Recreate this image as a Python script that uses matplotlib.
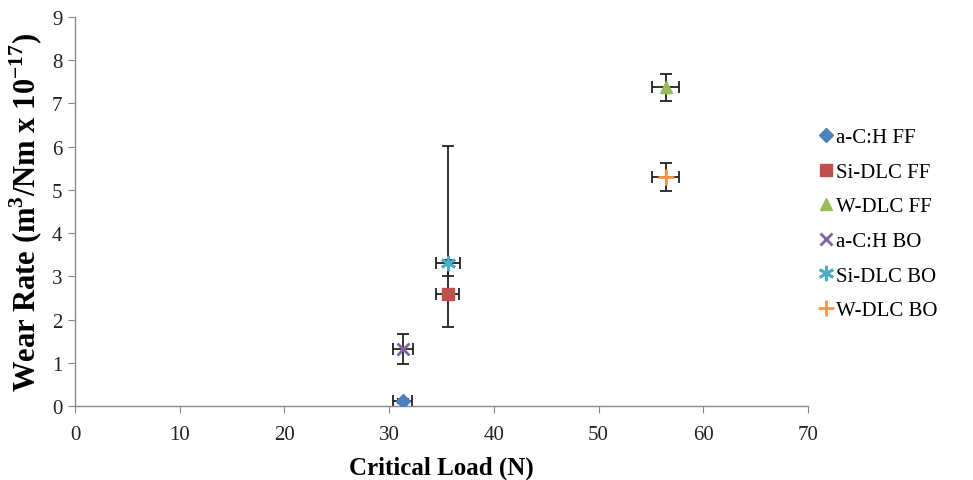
import matplotlib
matplotlib.use("Agg")
import matplotlib.pyplot as plt

plt.rcParams['font.family'] = ['Liberation Serif', 'DejaVu Serif']
plt.rcParams['mathtext.fontset'] = 'custom'
plt.rcParams['mathtext.rm'] = 'Liberation Serif'
plt.rcParams['mathtext.bf'] = 'Liberation Serif:bold'

names = ['a-C:H FF', 'Si-DLC FF', 'W-DLC FF', 'a-C:H BO', 'Si-DLC BO', 'W-DLC BO']
critical_load = [31.3, 35.6, 56.4, 31.3, 35.6, 56.4]
wear_rate = [0.12, 2.6, 7.37, 1.32, 3.3, 5.3]
x_err = [0.9, 1.1, 1.3, 0.95, 1.15, 1.3]
y_err_low = [0.04, 0.78, 0.32, 0.35, 0.3, 0.32]
y_err_high = [0.04, 0.78, 0.32, 0.35, 2.72, 0.32]

colors = ['#4F81BD', '#C0504D', '#9BBB59', '#8064A2', '#4BACC6', '#F79646']
markers = ['D', 's', '^', 'x', (6, 2, 0), '+']
sizes = [7, 9, 9, 9, 11, 12]

fig = plt.figure(figsize=(9.73, 4.81), dpi=100)
ax = fig.add_axes([75/973, 1 - 407/481, (808-75)/973, (407-18)/481])

for i in range(len(names)):
    ax.errorbar(critical_load[i], wear_rate[i], xerr=x_err[i],
                yerr=[[y_err_low[i]], [y_err_high[i]]],
                fmt='none', ecolor='#222222', elinewidth=1.3, capsize=4, capthick=1.3, zorder=2)
for i in range(len(names)):
    mk = markers[i]
    lined = mk in ('x', '+') or isinstance(mk, tuple)
    ax.plot(critical_load[i], wear_rate[i], linestyle='none', marker=mk,
            markersize=sizes[i], color=colors[i], markeredgecolor=colors[i],
            markeredgewidth=2 if lined else 1, label=names[i], zorder=3)

ax.set_xlim(0, 70)
ax.set_ylim(0, 9)
ax.set_xticks(range(0, 71, 10))
ax.set_yticks(range(0, 10))
for s in ['top', 'right']:
    ax.spines[s].set_visible(False)
for s in ['left', 'bottom']:
    ax.spines[s].set_color('#888888')
    ax.spines[s].set_linewidth(1)
ax.tick_params(direction='out', length=5, color='#888888', labelsize=15, labelcolor='#222222')
ax.tick_params(axis='x', pad=9)
ax.tick_params(axis='y', pad=4)

ax.set_xlabel('Critical Load (N)', fontsize=18, fontweight='bold', labelpad=8)
ax.set_ylabel(r'Wear Rate (m$^{\mathbf{3}}$/Nm x 10$^{\mathbf{-17}}$)', fontsize=22,
              fontweight='bold', labelpad=5)

leg = ax.legend(loc='upper left', bbox_to_anchor=(1.003, 0.737), frameon=False,
                fontsize=15, handlelength=0.7, handletextpad=0.15, labelspacing=0.72,
                borderaxespad=0)

fig.savefig('out.png', dpi=100)
